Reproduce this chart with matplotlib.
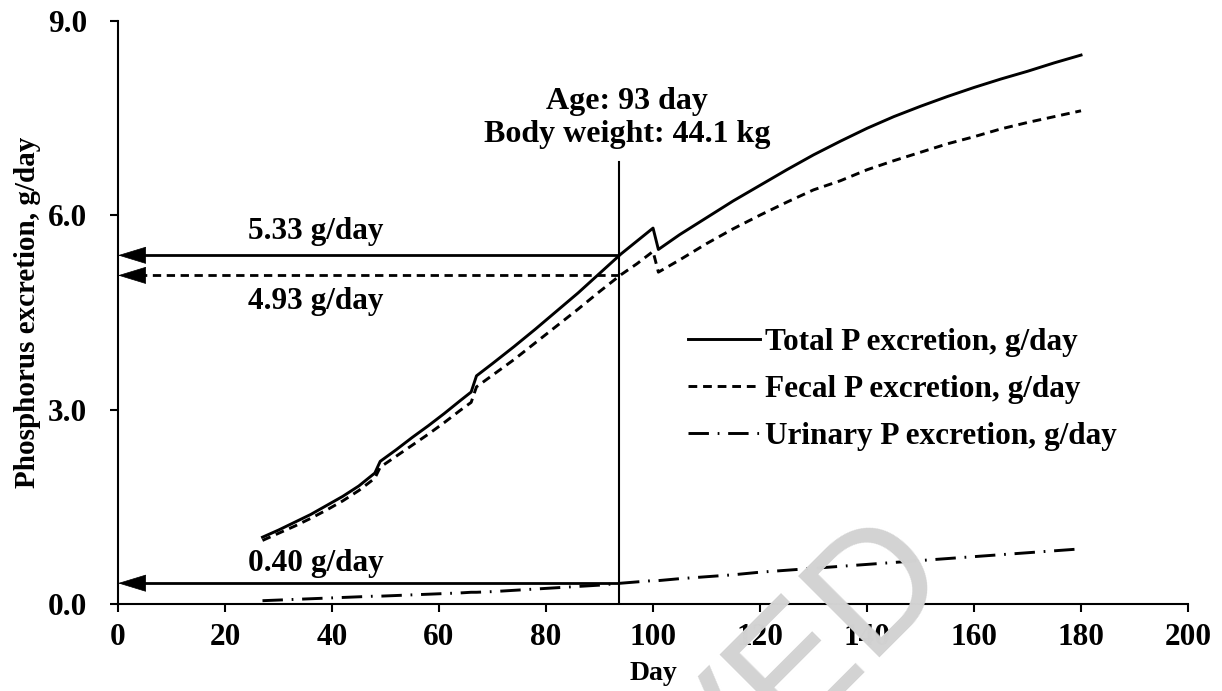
import matplotlib
matplotlib.use("Agg")
import matplotlib.pyplot as plt

# data
days = [27, 30, 33, 36, 39, 42, 45, 48, 49, 52, 55, 58, 61, 64, 66, 67, 70, 74, 78, 82,
        86, 90, 94, 97, 100, 101, 105, 110, 115, 120, 125, 130, 135, 140, 145, 150, 155,
        160, 165, 170, 175, 180]
total_p = [1.03, 1.14, 1.26, 1.38, 1.52, 1.66, 1.82, 2.02, 2.20, 2.38, 2.57, 2.75, 2.94,
           3.14, 3.27, 3.52, 3.71, 3.97, 4.24, 4.52, 4.80, 5.10, 5.40, 5.60, 5.80, 5.47,
           5.70, 5.96, 6.22, 6.46, 6.70, 6.93, 7.14, 7.34, 7.52, 7.68, 7.83, 7.97, 8.10,
           8.22, 8.35, 8.47]
fecal_p = [0.98, 1.09, 1.20, 1.32, 1.45, 1.59, 1.75, 1.94, 2.11, 2.28, 2.45, 2.62, 2.80,
           2.99, 3.11, 3.35, 3.53, 3.77, 4.03, 4.29, 4.55, 4.82, 5.08, 5.25, 5.44, 5.12,
           5.31, 5.56, 5.79, 6.00, 6.20, 6.39, 6.53, 6.70, 6.84, 6.97, 7.10, 7.21, 7.33,
           7.43, 7.52, 7.61]
urinary_p = [0.05, 0.06, 0.07, 0.08, 0.09, 0.10, 0.11, 0.12, 0.12, 0.13, 0.14, 0.15, 0.16,
             0.17, 0.18, 0.18, 0.19, 0.21, 0.23, 0.25, 0.27, 0.29, 0.32, 0.34, 0.36, 0.36,
             0.39, 0.42, 0.45, 0.49, 0.52, 0.55, 0.58, 0.61, 0.64, 0.67, 0.70, 0.73, 0.76,
             0.79, 0.82, 0.85]

marker_day = 93.7
marker_top = 6.82
arrow_levels = [5.38, 5.07, 0.32]
arrow_styles = ['-', (0, (3, 2)), '-']
arrow_labels = ['5.33 g/day', '4.93 g/day', '0.40 g/day']
label_offsets = [0.36, -0.40, 0.31]

plt.rcParams['font.family'] = 'Liberation Serif'
plt.rcParams['font.weight'] = 'bold'
plt.rcParams['axes.labelweight'] = 'bold'

fig = plt.figure(figsize=(12.22, 6.91), dpi=100)
ax = fig.add_axes([0.0966, 0.126, 0.8756, 0.844])

# watermark
fig.text(0.782, 0.159, 'ARCHIVED', family='Liberation Sans', fontweight='normal',
         fontsize=120, color='#d3d3d3', rotation=45, rotation_mode='anchor',
         ha='right', va='baseline', zorder=0)

ax.plot(days, total_p, color='black', lw=2.1, label='Total P excretion, g/day')
ax.plot(days, fecal_p, color='black', lw=2.1, linestyle=(0, (3, 2)),
        label='Fecal P excretion, g/day')
ax.plot(days, urinary_p, color='black', lw=2.1, linestyle=(0, (7, 3, 0.6, 3)),
        label='Urinary P excretion, g/day')

# vertical marker line
ax.plot([marker_day, marker_day], [0, marker_top], color='black', lw=1.5)
ax.text(95.2, 7.5, 'Age: 93 day\nBody weight: 44.1 kg', ha='center', va='center',
        fontsize=23, linespacing=1.2)

# arrows pointing to the y axis
for lvl, ls, txt, off in zip(arrow_levels, arrow_styles, arrow_labels, label_offsets):
    ax.plot([marker_day, 3], [lvl, lvl], color='black', lw=2, linestyle=ls,
            solid_capstyle='butt')
    ax.annotate('', xy=(0, lvl), xytext=(5, lvl),
                arrowprops=dict(arrowstyle='-|>,head_length=1.9,head_width=0.58',
                                mutation_scale=10, color='black', lw=0.5,
                                shrinkA=0, shrinkB=0))
    ax.text(37, lvl + off, txt, ha='center', va='center', fontsize=22.5)

ax.set_xlim(0, 200)
ax.set_ylim(0, 9)
ax.set_xticks(range(0, 201, 20))
ax.set_yticks([0, 3, 6, 9])
ax.set_yticklabels(['0.0', '3.0', '6.0', '9.0'])
for s in ['top', 'right']:
    ax.spines[s].set_visible(False)
for s in ['left', 'bottom']:
    ax.spines[s].set_linewidth(1.5)
ax.tick_params(axis='both', direction='out', length=6, width=1.5, labelsize=22.5)
ax.tick_params(axis='y', pad=16)
ax.tick_params(axis='x', pad=8)
ax.set_xlabel('Day', fontsize=20)
ax.xaxis.set_label_coords(0.5, -0.098)
ax.set_ylabel('Phosphorus excretion, g/day', fontsize=21, labelpad=5)

ax.legend(loc='upper left', bbox_to_anchor=(0.518, 0.50), frameon=False, fontsize=22.5,
          handlelength=2.3, handletextpad=0.16, labelspacing=0.57, borderpad=0)

fig.savefig('out.png', dpi=100)
